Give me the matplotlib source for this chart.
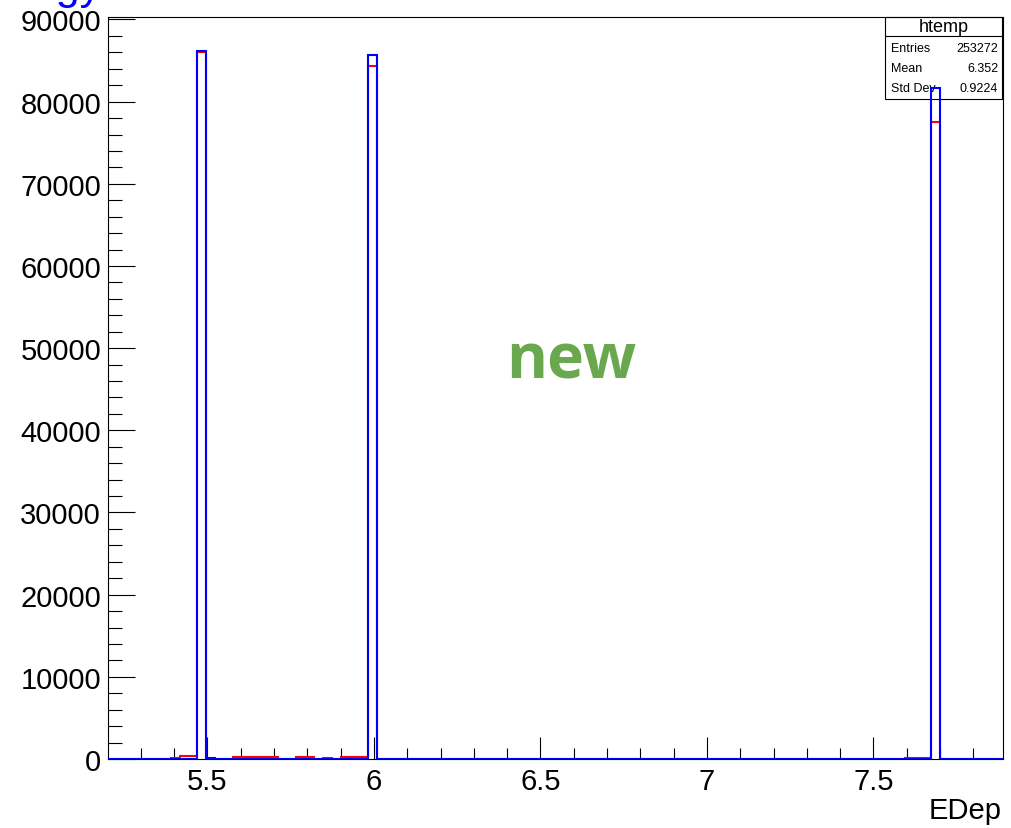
import numpy as np
import matplotlib
matplotlib.use("Agg")
import matplotlib.pyplot as plt
from matplotlib.patches import Rectangle

# ---- data ----
x_min, x_max, n_bins = 5.2012, 7.8892, 100

red_counts = [
    0, 0, 0, 0, 0, 0, 0, 150, 350, 350,
    86000, 30, 40, 60, 250, 260, 250, 240, 250, 60,
    50, 220, 200, 60, 150, 60, 250, 260, 250, 84300,
    30, 20, 30, 20, 25, 30, 20, 25, 30, 20,
    25, 20, 30, 25, 20, 30, 25, 20, 30, 25,
    20, 30, 25, 20, 30, 25, 20, 30, 25, 20,
    30, 25, 20, 30, 25, 20, 30, 25, 20, 30,
    25, 20, 30, 25, 20, 30, 25, 20, 30, 25,
    20, 30, 25, 20, 30, 25, 20, 30, 40, 150,
    160, 150, 77500, 0, 0, 0, 0, 0, 0, 0,
]
blue_counts = [
    0, 0, 0, 0, 0, 0, 0, 0, 0, 20,
    86130, 80, 20, 10, 10, 10, 10, 10, 10, 10,
    10, 10, 10, 10, 10, 10, 10, 10, 20, 85650,
    20, 10, 10, 10, 10, 10, 10, 10, 10, 10,
    10, 10, 10, 10, 10, 10, 10, 10, 10, 10,
    10, 10, 10, 10, 10, 10, 10, 10, 10, 10,
    10, 10, 10, 10, 10, 10, 10, 10, 10, 10,
    10, 10, 10, 10, 10, 10, 10, 10, 10, 10,
    10, 10, 10, 10, 10, 10, 10, 10, 10, 10,
    10, 10, 81630, 10, 0, 0, 0, 0, 0, 0,
]
x_major = [5.5, 6.0, 6.5, 7.0, 7.5]
x_major_labels = ["5.5", "6", "6.5", "7", "7.5"]
x_minor = [5.3, 5.4, 5.6, 5.7, 5.8, 5.9, 6.1, 6.2, 6.3, 6.4, 6.6, 6.7, 6.8, 6.9,
           7.1, 7.2, 7.3, 7.4, 7.6, 7.7, 7.8]
y_major = [0, 10000, 20000, 30000, 40000, 50000, 60000, 70000, 80000, 90000]
y_major_labels = [str(v) for v in y_major]
y_max = 90300

stats_title = "htemp"
stats_rows = [("Entries", "253272"), ("Mean", "6.352"), ("Std Dev", "0.9224")]
x_title = "EDep"
hist_title = "Energy"
watermark = "new"

# ---- figure ----
W, H = 1011, 829
fig = plt.figure(figsize=(W / 100, H / 100), dpi=100)
plt.rcParams['font.family'] = ['Liberation Sans', 'DejaVu Sans']

def fx(px):
    return px / W

def fy(py):
    return 1 - py / H

ax = fig.add_axes([fx(108), fy(760), fx(1003) - fx(108), fy(18) - fy(760)])
edges = np.linspace(x_min, x_max, n_bins + 1)
ax.stairs(red_counts, edges, color='#ff0000', linewidth=1.5, zorder=3)
ax.stairs(blue_counts, edges, color='#0000ff', linewidth=1.5, zorder=4)

ax.set_xlim(x_min, x_max)
ax.set_ylim(0, y_max)
ax.set_xticks(x_major)
ax.set_xticklabels(x_major_labels)
ax.set_xticks(x_minor, minor=True)
ax.set_yticks(y_major)
ax.set_yticklabels(y_major_labels)
ax.set_yticks(np.arange(0, y_max, 2000), minor=True)

ax.tick_params(axis='both', which='both', direction='in', color='black', width=0.8,
               labelsize=21, top=False, right=False)
ax.tick_params(axis='x', which='major', length=16, pad=6)
ax.tick_params(axis='x', which='minor', length=8)
ax.tick_params(axis='y', which='major', length=19.5, pad=5)
ax.tick_params(axis='y', which='minor', length=10)
for s in ax.spines.values():
    s.set_linewidth(0.8)
    s.set_color('black')

# stats box (histograms drawn over it)
bx0, by0, bx1, by1 = 885, 18, 1002, 100
ax.add_patch(Rectangle((fx(bx0), fy(by1)), fx(bx1) - fx(bx0), fy(by0) - fy(by1),
                       transform=fig.transFigure, facecolor='white', edgecolor='black',
                       linewidth=0.8, zorder=2, clip_on=False))
ax.plot([fx(bx0), fx(bx1)], [fy(37), fy(37)], transform=fig.transFigure, color='black',
        linewidth=0.8, zorder=2.1, clip_on=False)
ax.text(fx((bx0 + bx1) / 2), fy(28), stats_title, transform=fig.transFigure,
        ha='center', va='center', fontsize=13, zorder=2.2)
for i, (k, v) in enumerate(stats_rows):
    yy = fy(49 + i * 20)
    ax.text(fx(891), yy, k, transform=fig.transFigure, ha='left', va='center',
            fontsize=9, zorder=2.2)
    ax.text(fx(998), yy, v, transform=fig.transFigure, ha='right', va='center',
            fontsize=9, zorder=2.2)

# axis title
fig.text(fx(1002), fy(819), x_title, ha='right', va='baseline', fontsize=21)

# cut-off histogram title
fig.text(fx(102), fy(-1), hist_title, ha='right', va='baseline', fontsize=31,
         color='#0000ff')

# watermark
fig.text(fx(571), fy(362), watermark, ha='center', va='center', fontsize=45,
         fontweight='bold', color='#6aa84f', family='Open Sans')

fig.savefig('out.png', dpi=100)
